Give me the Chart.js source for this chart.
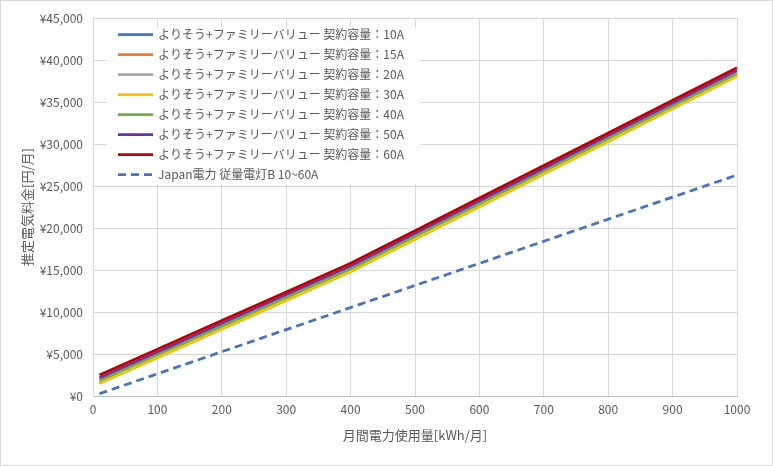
<!DOCTYPE html>
<html>
<head>
<meta charset="utf-8">
<script src="https://cdn.jsdelivr.net/npm/chart.js@4"></script>
<style>
  body { margin: 0; background: #fff; }
  #wrap { width: 773px; height: 466px; }
</style>
</head>
<body>
<div id="wrap"><canvas id="chart" width="773" height="466"></canvas></div>
<script>
// usage in kWh per month
const usage = [10, 100, 200, 300, 400, 500, 600, 700, 800, 900, 1000];

// estimated monthly bill (yen)
const plan10A = [1540, 4610, 8020, 11430, 14840, 18720, 22600, 26480, 30360, 34240, 38120];
const plan15A = [1540, 4610, 8020, 11430, 14840, 18720, 22600, 26480, 30360, 34240, 38120];
const plan20A = [1540, 4610, 8020, 11430, 14840, 18720, 22600, 26480, 30360, 34240, 38120];
const plan30A = [1540, 4610, 8020, 11430, 14840, 18720, 22600, 26480, 30360, 34240, 38120];
const plan40A = [1860, 4930, 8340, 11750, 15160, 19040, 22920, 26800, 30680, 34560, 38440];
const plan50A = [2180, 5250, 8660, 12070, 15480, 19360, 23240, 27120, 31000, 34880, 38760];
const plan60A = [2500, 5570, 8980, 12390, 15800, 19680, 23560, 27440, 31320, 35200, 39080];
const japanB  = [270, 2640, 5270, 7900, 10530, 13160, 15790, 18420, 21050, 23680, 26310];

const seriesNames = [
  'よりそう+ファミリーバリュー 契約容量：10A',
  'よりそう+ファミリーバリュー 契約容量：15A',
  'よりそう+ファミリーバリュー 契約容量：20A',
  'よりそう+ファミリーバリュー 契約容量：30A',
  'よりそう+ファミリーバリュー 契約容量：40A',
  'よりそう+ファミリーバリュー 契約容量：50A',
  'よりそう+ファミリーバリュー 契約容量：60A',
  'Japan電力 従量電灯B 10~60A'
];
const seriesValues = [plan10A, plan15A, plan20A, plan30A, plan40A, plan50A, plan60A, japanB];
const seriesColors = ['#4472C4', '#ED7D31', '#A5A5A5', '#FFC000', '#70AD47', '#7030A0', '#C00000', '#4472C4'];

const FONT = '"Noto Sans CJK JP", "Noto Sans", sans-serif';
const TEXT = '#595959';
const DASH = [8, 5];

const datasets = seriesValues.map((vals, i) => ({
  label: seriesNames[i],
  data: usage.map((u, j) => ({ x: u, y: vals[j] })),
  borderColor: seriesColors[i],
  backgroundColor: seriesColors[i],
  borderWidth: 2.75,
  borderDash: i === 7 ? DASH : [],
  pointRadius: 0,
  tension: 0,
  order: seriesValues.length - i // later series drawn on top, like Excel
}));

// white page with thin frame
const framePlugin = {
  id: 'frame',
  beforeDraw(chart) {
    const ctx = chart.ctx;
    ctx.save();
    ctx.fillStyle = '#fff';
    ctx.fillRect(0, 0, chart.width, chart.height);
    ctx.strokeStyle = '#d9d9d9';
    ctx.lineWidth = 1;
    ctx.strokeRect(0.5, 0.5, chart.width - 1, chart.height - 1);
    ctx.restore();
  }
};

// legend box inside the plot, top left
const legendPlugin = {
  id: 'boxLegend',
  afterDatasetsDraw(chart) {
    const ctx = chart.ctx;
    const left = chart.chartArea.left;
    const top = chart.chartArea.top;
    ctx.save();
    ctx.fillStyle = '#fff';
    ctx.fillRect(left + 14, top + 9, 313, 157);
    ctx.font = '12px ' + FONT;
    ctx.textBaseline = 'middle';
    ctx.textAlign = 'left';
    chart.data.datasets.forEach((ds, i) => {
      const y = top + 16.5 + i * 20;
      ctx.strokeStyle = ds.borderColor;
      ctx.lineWidth = 2.75;
      ctx.setLineDash(ds.borderDash || []);
      ctx.beginPath();
      ctx.moveTo(left + 25, y);
      ctx.lineTo(left + 60, y);
      ctx.stroke();
      ctx.setLineDash([]);
      ctx.fillStyle = TEXT;
      ctx.fillText(ds.label, left + 65, y);
    });
    ctx.restore();
  }
};

new Chart(document.getElementById('chart'), {
  type: 'line',
  data: { datasets: datasets },
  plugins: [framePlugin, legendPlugin],
  options: {
    responsive: false,
    animation: false,
    layout: { padding: { left: 19, right: 36, top: 18, bottom: 23 } },
    plugins: {
      legend: { display: false },
      tooltip: { enabled: false }
    },
    scales: {
      x: {
        type: 'linear',
        min: 0,
        max: 1000,
        ticks: {
          stepSize: 100,
          color: TEXT,
          font: { family: FONT, size: 12 },
          padding: 6,
          callback: v => String(v)
        },
        grid: { color: '#d9d9d9', drawTicks: false },
        border: { color: '#bfbfbf' },
        title: {
          display: true,
          text: '月間電力使用量[kWh/月]',
          color: TEXT,
          font: { family: FONT, size: 13 },
          padding: { top: 0, bottom: 0 }
        },
        afterFit(scale) { scale.height = 47; }
      },
      y: {
        min: 0,
        max: 45000,
        ticks: {
          stepSize: 5000,
          color: TEXT,
          font: { family: FONT, size: 12 },
          padding: 10,
          callback: v => '¥' + v.toLocaleString('en-US')
        },
        grid: { color: '#d9d9d9', drawTicks: false },
        border: { color: '#d9d9d9' },
        title: {
          display: true,
          text: '推定電気料金[円/月]',
          color: TEXT,
          font: { family: FONT, size: 13 },
          padding: { top: 0, bottom: 0 }
        },
        afterFit(scale) { scale.width = 74; }
      }
    }
  }
});
</script>
</body>
</html>
